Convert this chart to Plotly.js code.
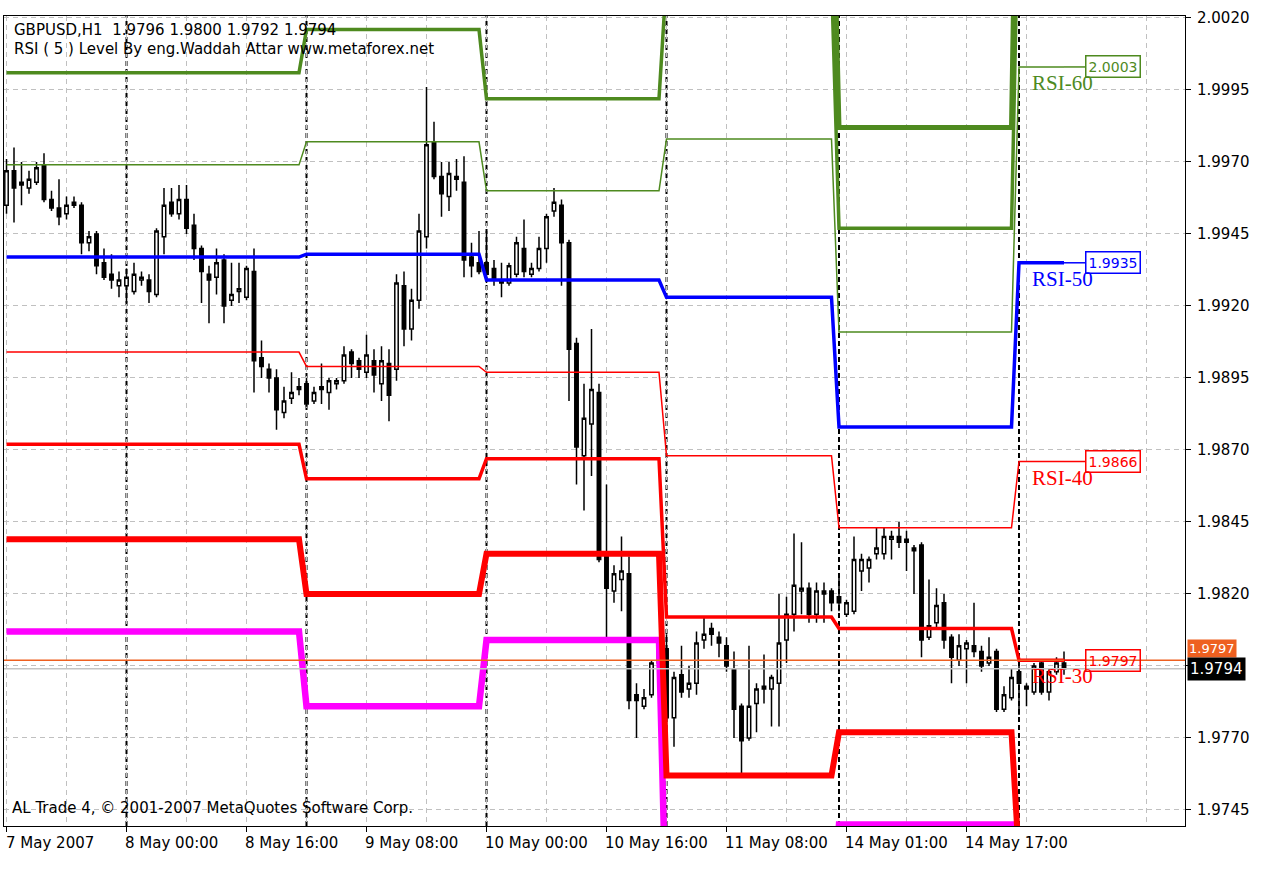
<!DOCTYPE html>
<html><head><meta charset="utf-8">
<script src="https://cdn.plot.ly/plotly-3.0.1.min.js"></script>
<style>html,body{margin:0;padding:0;background:#fff}#chart{width:1264px;height:871px}</style>
</head><body><div id="chart"></div>
<script>
// ---- Candle data (GBPUSD H1, 7 May 2007 08:00 .. 15 May 2007 06:00) ----
const opens = [1.9955,1.9967,1.9963,1.9961,1.9963,1.9969,1.9957,1.9954,1.9952,1.9956,
1.9955,1.9942,1.9945,1.9935,1.9931,1.9927,1.9927,1.9925,1.9929,1.9929,
1.9924,1.9944,1.9956,1.9952,1.9957,1.9948,1.9940,1.9931,1.9930,1.9936,
1.9922,1.9925,1.9923,1.9932,1.9902,1.9898,1.9895,1.9883,1.9888,1.9892,
1.9893,1.9887,1.9892,1.9890,1.9893,1.9894,1.9904,1.9901,1.9897,1.9901,
1.9893,1.9900,1.9898,1.9927,1.9912,1.9922,1.9944,1.9977,1.9965,1.9958,
1.9965,1.9963,1.9937,1.9935,1.9935,1.9933,1.9929,1.9928,1.9931,1.9940,
1.9931,1.9933,1.9940,1.9953,1.9955,1.9942,1.9907,1.9868,1.9879,1.9890,
1.9834,1.9821,1.9825,1.9827,1.9785,1.9781,1.9785,1.9796,1.9801,1.9777,
1.9792,1.9787,1.9789,1.9804,1.9808,1.9805,1.9802,1.9794,1.9781,1.9770,
1.9782,1.9788,1.9787,1.9789,1.9804,1.9813,1.9821,1.9822,1.9813,1.9821,
1.9821,1.9819,1.9813,1.9814,1.9828,1.9829,1.9834,1.9834,1.9839,1.9840,
1.9839,1.9836,1.9837,1.9805,1.9810,1.9817,1.9805,1.9797,1.9801,1.9802,
1.9800,1.9796,1.9800,1.9780,1.9784,1.9793,1.9788,1.9786,1.9796,1.9786,
1.9793,1.9796];
const highs = [1.9971,1.9975,1.9970,1.9967,1.9970,1.9973,1.9960,1.9964,1.9958,1.9958,
1.9956,1.9946,1.9946,1.9940,1.9938,1.9932,1.9933,1.9935,1.9932,1.9931,
1.9947,1.9961,1.9961,1.9962,1.9962,1.9952,1.9941,1.9934,1.9940,1.9938,
1.9935,1.9935,1.9934,1.9940,1.9908,1.9900,1.9898,1.9892,1.9897,1.9895,
1.9895,1.9892,1.9900,1.9895,1.9895,1.9906,1.9905,1.9902,1.9910,1.9905,
1.9906,1.9905,1.9931,1.9932,1.9926,1.9952,1.9996,1.9984,1.9970,1.9970,
1.9971,1.9972,1.9942,1.9946,1.9946,1.9936,1.9935,1.9935,1.9944,1.9950,
1.9935,1.9944,1.9952,1.9961,1.9957,1.9943,1.9909,1.9893,1.9912,1.9893,
1.9858,1.9830,1.9840,1.9833,1.9789,1.9787,1.9797,1.9802,1.9806,1.9793,
1.9802,1.9795,1.9807,1.9812,1.9810,1.9807,1.9805,1.9800,1.9782,1.9802,
1.9789,1.9799,1.9792,1.9820,1.9819,1.9841,1.9838,1.9824,1.9824,1.9824,
1.9822,1.9826,1.9818,1.9840,1.9834,1.9833,1.9843,1.9843,1.9842,1.9845,
1.9842,1.9837,1.9838,1.9825,1.9822,1.9820,1.9806,1.9806,1.9804,1.9817,
1.9802,1.9805,1.9801,1.9788,1.9794,1.9795,1.9789,1.9796,1.9797,1.9794,
1.9798,1.9800];
const lows = [1.9952,1.9949,1.9955,1.9959,1.9962,1.9956,1.9953,1.9948,1.9950,1.9954,
1.9938,1.9939,1.9931,1.9929,1.9926,1.9923,1.9921,1.9924,1.9927,1.9921,
1.9923,1.9938,1.9951,1.9950,1.9945,1.9936,1.9921,1.9914,1.9924,1.9914,
1.9920,1.9921,1.9922,1.9890,1.9895,1.9890,1.9877,1.9881,1.9886,1.9889,
1.9885,1.9886,1.9886,1.9884,1.9891,1.9893,1.9895,1.9895,1.9895,1.9890,
1.9887,1.9880,1.9894,1.9906,1.9908,1.9919,1.9940,1.9964,1.9951,1.9953,
1.9960,1.9930,1.9930,1.9931,1.9928,1.9927,1.9923,1.9927,1.9930,1.9930,
1.9930,1.9932,1.9935,1.9951,1.9927,1.9887,1.9858,1.9849,1.9861,1.9831,
1.9805,1.9817,1.9814,1.9780,1.9770,1.9780,1.9784,1.9794,1.9767,1.9767,
1.9784,1.9784,1.9785,1.9801,1.9802,1.9798,1.9793,1.9770,1.9757,1.9769,
1.9772,1.9782,1.9774,1.9774,1.9796,1.9807,1.9813,1.9810,1.9810,1.9810,
1.9814,1.9814,1.9812,1.9813,1.9821,1.9824,1.9832,1.9832,1.9832,1.9836,
1.9828,1.9820,1.9798,1.9804,1.9808,1.9801,1.9789,1.9795,1.9789,1.9798,
1.9793,1.9795,1.9779,1.9779,1.9783,1.9778,1.9781,1.9785,1.9785,1.9783,
1.9792,1.9792];
const closes = [1.9967,1.9961,1.9962,1.9964,1.9968,1.9957,1.9954,1.9951,1.9955,1.9955,
1.9942,1.9944,1.9934,1.9930,1.9929,1.9929,1.9930,1.9931,1.9930,1.9925,
1.9946,1.9955,1.9952,1.9957,1.9947,1.9940,1.9932,1.9929,1.9935,1.9920,
1.9924,1.9926,1.9933,1.9901,1.9899,1.9895,1.9884,1.9887,1.9890,1.9891,
1.9886,1.9890,1.9891,1.9894,1.9894,1.9903,1.9900,1.9898,1.9903,1.9896,
1.9901,1.9889,1.9928,1.9912,1.9922,1.9946,1.9976,1.9965,1.9959,1.9966,
1.9964,1.9936,1.9934,1.9932,1.9931,1.9929,1.9928,1.9934,1.9942,1.9932,
1.9933,1.9940,1.9951,1.9956,1.9942,1.9905,1.9871,1.9881,1.9891,1.9832,
1.9822,1.9827,1.9828,1.9783,1.9783,1.9784,1.9796,1.9801,1.9777,1.9791,
1.9786,1.9789,1.9803,1.9806,1.9806,1.9803,1.9795,1.9780,1.9769,1.9781,
1.9787,1.9787,1.9791,1.9803,1.9813,1.9823,1.9822,1.9813,1.9821,1.9820,
1.9817,1.9817,1.9817,1.9832,1.9832,1.9832,1.9836,1.9840,1.9840,1.9838,
1.9838,1.9835,1.9804,1.9809,1.9816,1.9804,1.9798,1.9802,1.9803,1.9800,
1.9795,1.9798,1.9780,1.9785,1.9791,1.9789,1.9787,1.9795,1.9786,1.9793,
1.9796,1.9794];

// ---- Daily RSI level indicator (step lines), by day segment ----
const dayStart = [0, 40, 64, 88, 111, 135];
const dayEnd   = [39, 63, 87, 110, 134, 141];
const rsi80 = [2.0034, 2.0055, 2.0023, 2.0089, 1.9982, 2.0140];
const rsi70 = [2.0001, 2.0016, 1.9992, 2.0034, 1.9947, 2.0072];
const rsi60 = [1.9969, 1.9977, 1.9960, 1.9978, 1.9911, 2.0003];
const rsi50 = [1.9937, 1.9938, 1.9929, 1.9923, 1.9878, 1.9935];
const rsi40 = [1.9904, 1.9899, 1.9897, 1.9868, 1.9843, 1.9866];
const rsi30 = [1.9872, 1.9860, 1.9867, 1.9812, 1.9808, 1.9797];
const rsi20 = [1.9839, 1.9820, 1.9834, 1.9757, 1.9772, 1.9728];
const rsi10 = [1.9807, 1.9781, 1.9804, 1.9701, 1.9740, 1.9660];

// ---- Axis labels ----
const tickBars = [0, 16, 32, 48, 64, 80, 96, 112, 128];
const tickLabels = ["7 May 2007","8 May 00:00","8 May 16:00","9 May 08:00","10 May 00:00","10 May 16:00","11 May 08:00","14 May 01:00","14 May 17:00"];
const minorBars = [8, 24, 40, 56, 72, 88, 104, 120, 136, 152];
const separatorBars = [16, 40, 64, 88, 111, 135];
const priceTicks = [1.9745,1.9770,1.9795,1.9820,1.9845,1.9870,1.9895,1.9920,1.9945,1.9970,1.9995,2.0020];

const GREEN = '#4e8a1f', BLUE = '#0000ff', RED = '#ff0000', MAG = '#ff00ff', ORANGE = '#ee6020';
const bars = opens.map((_, i) => i);
const last = opens.length - 1;

function stepXY(levels) {
  const xs = [], ys = [];
  dayStart.forEach((s, k) => { xs.push(s, dayEnd[k]); ys.push(levels[k], levels[k]); });
  return {xs, ys};
}
const lineDefs = [
  {lv: rsi10, color: MAG, w: 6.5},
  {lv: rsi20, color: RED, w: 6},
  {lv: rsi30, color: RED, w: 3.5},
  {lv: rsi40, color: RED, w: 1.5},
  {lv: rsi50, color: BLUE, w: 3.5},
  {lv: rsi60, color: GREEN, w: 1.5},
  {lv: rsi70, color: GREEN, w: 3.5},
  {lv: rsi80, color: GREEN, w: 5}
];

const traces = [{
  type: 'candlestick', x: bars, open: opens, high: highs, low: lows, close: closes,
  increasing: {line: {color: '#000', width: 1.5}, fillcolor: '#fff'},
  decreasing: {line: {color: '#000', width: 1.5}, fillcolor: '#000'},
  whiskerwidth: 0, hoverinfo: 'skip', showlegend: false
}];
lineDefs.forEach(d => {
  const s = stepXY(d.lv);
  traces.push({type: 'scatter', mode: 'lines', x: s.xs, y: s.ys,
    line: {color: d.color, width: d.w}, hoverinfo: 'skip', showlegend: false});
});

const FONT = 'DejaVu Sans';
const shapes = [];
separatorBars.forEach(b => shapes.push({type: 'line', xref: 'x', yref: 'paper', x0: b, x1: b, y0: 0, y1: 1,
  line: {color: '#000', width: 2, dash: '5px,3px'}, layer: 'between'}));
// last-level horizontal line and bid line
shapes.push({type: 'line', xref: 'paper', yref: 'y', x0: 0, x1: 1, y0: rsi30[5], y1: rsi30[5],
  line: {color: ORANGE, width: 1.5}, layer: 'above'});
shapes.push({type: 'line', xref: 'paper', yref: 'y', x0: 0, x1: 1, y0: closes[last], y1: closes[last],
  line: {color: '#c4c4c4', width: 1.5}, layer: 'above'});

const labelBoxX = 143.8;
const labels = [
  {name: 'RSI-60', lv: rsi60[5], color: GREEN},
  {name: 'RSI-50', lv: rsi50[5], color: BLUE},
  {name: 'RSI-40', lv: rsi40[5], color: RED},
  {name: 'RSI-30', lv: rsi30[5], color: RED}
];
const annotations = [];
labels.forEach(l => {
  shapes.push({type: 'line', xref: 'x', yref: 'y', x0: last, x1: labelBoxX, y0: l.lv, y1: l.lv,
    line: {color: l.color, width: 1.5}, layer: 'above'});
  annotations.push({xref: 'x', yref: 'y', x: labelBoxX, y: l.lv, xanchor: 'left', yanchor: 'middle',
    text: l.lv.toFixed(4), showarrow: false, bordercolor: l.color, borderwidth: 1.5, borderpad: 2,
    bgcolor: 'rgba(255,255,255,0)', font: {family: FONT, size: 14, color: l.color}});
  annotations.push({xref: 'x', yref: 'y', x: 136.4, y: l.lv, xanchor: 'left', yanchor: 'top', yshift: -2,
    text: l.name, showarrow: false, font: {family: 'Liberation Serif', size: 21, color: l.color}});
});
tickBars.forEach((b, i) => annotations.push({xref: 'paper', yref: 'paper',
  x: Math.max(0, (b - 0.45 + 0.3333) / 157.467), y: -0.021,
  xanchor: 'left', yanchor: 'middle', text: tickLabels[i], showarrow: false,
  font: {family: FONT, size: 15, color: '#000'}}));
annotations.push({xref: 'paper', yref: 'paper', x: 0.0068, y: 0.9827, xanchor: 'left', yanchor: 'middle',
  text: 'GBPUSD,H1\u00a0\u00a0' + [opens[last], highs[last], lows[last], closes[last]].map(v => v.toFixed(4)).join(' '),
  showarrow: false, font: {family: FONT, size: 15, color: '#000'}});
annotations.push({xref: 'paper', yref: 'paper', x: 0.0068, y: 0.9593, xanchor: 'left', yanchor: 'middle',
  text: 'RSI ( 5 ) Level By eng.Waddah Attar www.metaforex.net',
  showarrow: false, font: {family: FONT, size: 15, color: '#000'}});
annotations.push({xref: 'paper', yref: 'paper', x: 0.0051, y: 0.0222, xanchor: 'left', yanchor: 'middle',
  text: 'AL Trade 4, © 2001-2007 MetaQuotes Software Corp.',
  showarrow: false, font: {family: FONT, size: 15, color: '#000'}});
// right-axis price markers (orange level marker sits just above the bid marker)
annotations.push({xref: 'paper', yref: 'y', x: 1.002, y: rsi30[5], xanchor: 'left', yanchor: 'bottom', yshift: 2,
  text: rsi30[5].toFixed(4), showarrow: false, bgcolor: ORANGE, borderpad: 1,
  font: {family: FONT, size: 13, color: '#fff'}});
annotations.push({xref: 'paper', yref: 'y', x: 1.002, y: closes[last], xanchor: 'left', yanchor: 'middle',
  text: closes[last].toFixed(4), showarrow: false, bgcolor: '#000', borderpad: 2,
  font: {family: FONT, size: 15, color: '#fff'}});

const layout = {
  width: 1264, height: 871,
  margin: {l: 4, r: 79, t: 16, b: 45, pad: 0},
  paper_bgcolor: '#fff', plot_bgcolor: '#fff',
  showlegend: false, hovermode: false, boxgap: 0.35,
  xaxis: {
    type: 'linear', range: [-0.3333, 157.134], rangeslider: {visible: false},
    tickmode: 'array', tickvals: tickBars, showticklabels: false,
    ticks: 'outside', ticklen: 5, tickcolor: '#000', tickwidth: 1,
    showgrid: true, gridcolor: '#c0c0c0', griddash: '5px,4px', gridwidth: 1,
    minor: {tickmode: 'array', tickvals: minorBars, showgrid: true, gridcolor: '#c0c0c0', griddash: '5px,4px', ticks: ''},
    showline: true, linecolor: '#000', linewidth: 1, mirror: true, zeroline: false, fixedrange: true
  },
  yaxis: {
    side: 'right', range: [1.973944, 2.002069],
    tickmode: 'array', tickvals: priceTicks,
    ticktext: priceTicks.map(v => Math.abs(v - 1.9795) < 1e-6 ? '' : v.toFixed(4)),
    ticks: 'outside', ticklen: 5, tickcolor: '#000', ticklabelstandoff: 3,
    tickfont: {family: FONT, size: 15, color: '#000'},
    showgrid: true, gridcolor: '#c0c0c0', griddash: '5px,4px', gridwidth: 1,
    showline: true, linecolor: '#000', linewidth: 1, mirror: true, zeroline: false, fixedrange: true
  },
  shapes: shapes,
  annotations: annotations
};
Plotly.newPlot('chart', traces, layout, {displayModeBar: false, staticPlot: true});
</script>
</body></html>
